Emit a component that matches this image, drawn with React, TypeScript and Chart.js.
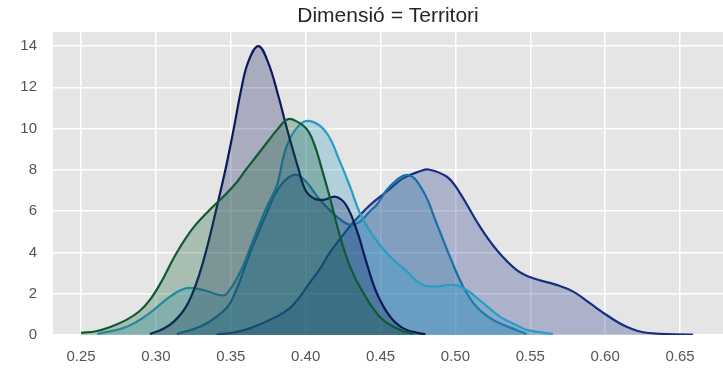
import React, { useEffect, useRef } from "react";
import { Chart, registerables } from "chart.js";

Chart.register(...registerables);

const TITLE = "Dimensió = Territori";
const xTicks = [0.25, 0.3, 0.35, 0.4, 0.45, 0.5, 0.55, 0.6, 0.65];
const yTicks = [0, 2, 4, 6, 8, 10, 12, 14];

const greenX = [0.25, 0.26, 0.27, 0.28, 0.289, 0.296, 0.303, 0.314, 0.325, 0.336, 0.345, 0.354, 0.36, 0.367, 0.375, 0.381, 0.388, 0.394, 0.401, 0.406, 0.411, 0.416, 0.423, 0.43, 0.438, 0.45, 0.463, 0.472];
const greenY = [0.1, 0.18, 0.4, 0.72, 1.15, 1.7, 2.5, 4.0, 5.2, 6.07, 6.7, 7.4, 8.0, 8.65, 9.4, 9.95, 10.45, 10.35, 9.95, 9.2, 8.0, 6.71, 4.77, 3.25, 2.1, 0.85, 0.24, 0.06];

const navyX = [0.296, 0.305, 0.312, 0.32, 0.327, 0.334, 0.341, 0.347, 0.352, 0.357, 0.3615, 0.3684, 0.375, 0.3817, 0.3877, 0.395, 0.4, 0.406, 0.412, 0.42, 0.427, 0.434, 0.4407, 0.4474, 0.4563, 0.4652, 0.4763, 0.48];
const navyY = [0.05, 0.3, 0.65, 1.35, 2.5, 4.2, 6.3, 8.2, 10.0, 11.9, 13.2, 14.0, 13.2, 11.6, 9.95, 8.1, 7.0, 6.6, 6.55, 6.7, 6.3, 5.1, 3.5, 2.05, 0.9, 0.32, 0.08, 0.04];

const lightX = [0.261, 0.2805, 0.296, 0.3094, 0.3205, 0.3316, 0.343, 0.3473, 0.356, 0.365, 0.374, 0.3806, 0.3873, 0.396, 0.404, 0.414, 0.4229, 0.4296, 0.4363, 0.445, 0.4563, 0.4674, 0.4763, 0.4852, 0.4986, 0.5075, 0.5186, 0.5297, 0.543, 0.5475, 0.565];
const lightY = [0.05, 0.4, 1.07, 1.86, 2.27, 2.18, 1.93, 2.0, 3.0, 4.6, 6.2, 7.2, 9.14, 10.19, 10.35, 9.79, 8.4, 7.2, 5.9, 4.8, 3.8, 3.1, 2.5, 2.34, 2.43, 2.18, 1.54, 0.89, 0.4, 0.25, 0.05];

const mediumX = [0.314, 0.3294, 0.3406, 0.35, 0.3628, 0.374, 0.3828, 0.393, 0.4006, 0.4095, 0.4207, 0.4296, 0.4363, 0.443, 0.4474, 0.4563, 0.4685, 0.4786, 0.4874, 0.4963, 0.5052, 0.5141, 0.5252, 0.5408, 0.5475];
const mediumY = [0.05, 0.4, 0.89, 1.6, 3.96, 5.9, 7.2, 7.77, 7.4, 6.55, 5.74, 5.34, 5.5, 6.0, 6.3, 7.2, 7.75, 6.95, 5.42, 3.8, 2.34, 1.37, 0.73, 0.24, 0.05];

const darkX = [0.3406, 0.352, 0.3628, 0.3806, 0.3895, 0.3962, 0.4029, 0.4095, 0.4162, 0.4229, 0.4318, 0.443, 0.455, 0.4652, 0.4763, 0.482, 0.4941, 0.502, 0.5163, 0.5275, 0.5408, 0.552, 0.5675, 0.5787, 0.5898, 0.6009, 0.6143, 0.6276, 0.6587];
const darkY = [0.02, 0.12, 0.32, 0.89, 1.3, 1.86, 2.55, 3.2, 4.0, 4.65, 5.45, 6.3, 7.0, 7.6, 7.93, 8.02, 7.68, 7.0, 5.26, 4.13, 3.16, 2.75, 2.43, 2.1, 1.54, 0.97, 0.4, 0.11, 0.02];

const series = [
  { name: "A", xs: greenX, ys: greenY, color: "15,90,50" },
  { name: "B", xs: navyX, ys: navyY, color: "12,26,91" },
  { name: "C", xs: lightX, ys: lightY, color: "43,156,196" },
  { name: "D", xs: mediumX, ys: mediumY, color: "26,111,166" },
  { name: "E", xs: darkX, ys: darkY, color: "22,47,130" },
];

const FONT = "'Liberation Sans', Arial, sans-serif";

const bgPlugin = {
  id: "plotBg",
  beforeDraw(chart: any) {
    const { ctx, chartArea } = chart;
    ctx.save();
    ctx.fillStyle = "#e5e5e5";
    ctx.fillRect(chartArea.left, chartArea.top, chartArea.right - chartArea.left, chartArea.bottom - chartArea.top);
    ctx.restore();
  },
};

export default function App() {
  const ref = useRef<HTMLCanvasElement | null>(null);
  useEffect(() => {
    if (!ref.current) return;
    const chart = new Chart(ref.current, {
      type: "line",
      data: {
        datasets: series.map((s) => ({
          label: s.name,
          data: s.xs.map((x, i) => ({ x, y: s.ys[i] })),
          borderColor: `rgb(${s.color})`,
          backgroundColor: `rgba(${s.color},0.28)`,
          borderWidth: 2.2,
          pointRadius: 0,
          fill: "origin",
          tension: 0.4,
        })),
      },
      options: {
        animation: false,
        responsive: false,
        devicePixelRatio: 1,
        layout: { padding: { left: 0, right: 0, top: 0, bottom: 0 } },
        plugins: {
          legend: { display: false },
          tooltip: { enabled: false },
          title: {
            display: true,
            text: TITLE,
            fullSize: false,
            color: "#262626",
            font: { family: FONT, size: 21, weight: "normal" },
            padding: { top: 3.5, bottom: 3.3 },
          },
        },
        scales: {
          x: {
            type: "linear",
            min: 0.2313,
            max: 0.6787,
            afterBuildTicks: (scale: any) => {
              scale.ticks = xTicks.map((v) => ({ value: v }));
            },
            afterFit: (scale: any) => {
              scale.height = 35;
            },
            grid: { color: "#ffffff", lineWidth: 1.5, drawTicks: false },
            border: { display: false },
            ticks: {
              color: "#555555",
              padding: 13,
              font: { family: FONT, size: 15 },
              maxRotation: 0,
              autoSkip: false,
              callback: (v: any) => Number(v).toFixed(2),
            },
          },
          y: {
            type: "linear",
            min: 0,
            max: 14.68,
            afterBuildTicks: (scale: any) => {
              scale.ticks = yTicks.map((v) => ({ value: v }));
            },
            afterFit: (scale: any) => {
              scale.width = 53;
            },
            grid: { color: "#ffffff", lineWidth: 1.5, drawTicks: false },
            border: { display: false },
            ticks: {
              color: "#555555",
              padding: 16,
              font: { family: FONT, size: 15 },
              autoSkip: false,
              callback: (v: any) => String(v),
            },
          },
        },
      },
      plugins: [bgPlugin],
    });
    return () => chart.destroy();
  }, []);
  return (
    <div style={{ position: "fixed", left: 0, top: 0, width: 723, height: 370, background: "#ffffff" }}>
      <canvas ref={ref} width={723} height={370} style={{ width: 723, height: 370, display: "block" }} />
    </div>
  );
}
